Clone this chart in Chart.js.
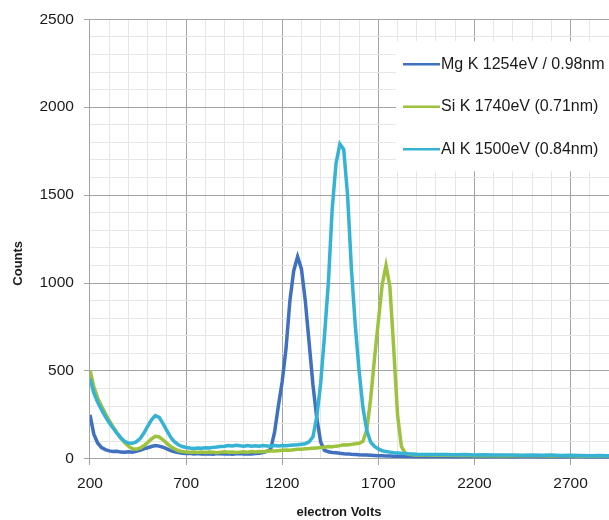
<!DOCTYPE html>
<html>
<head>
<meta charset="utf-8">
<title>X-ray spectra</title>
<script src="https://cdn.jsdelivr.net/npm/chart.js@4.4.1/dist/chart.umd.min.js"></script>
<style>
    html, body { margin: 0; padding: 0; background: #ffffff; }
    #chart { display: block; }
</style>
</head>
<body>
<canvas id="chart" width="609" height="520"></canvas>
<script>
// energy axis (eV) shared by the three spectra
const energyEv = [
    200, 220, 240, 260, 280, 300, 320, 340, 360, 380,
    400, 420, 440, 460, 480, 500, 520, 540, 560, 580,
    600, 620, 640, 660, 680, 700, 720, 740, 760, 780,
    800, 820, 840, 860, 880, 900, 920, 940, 960, 980,
    1000, 1020, 1040, 1060, 1080, 1100, 1120, 1140, 1160, 1180,
    1200, 1220, 1240, 1260, 1280, 1300, 1320, 1340, 1360, 1380,
    1400, 1420, 1440, 1460, 1480, 1500, 1520, 1540, 1560, 1580,
    1600, 1620, 1640, 1660, 1680, 1700, 1720, 1740, 1760, 1780,
    1800, 1820, 1840, 1860, 1880, 1900,
    1950, 2000, 2050, 2100, 2150, 2200, 2250, 2300, 2350, 2400,
    2450, 2500, 2550, 2600, 2650, 2700, 2750, 2800, 2850, 2900
];

const mgCounts = [
    250, 140, 90, 64, 52, 45, 41, 43, 38, 37,
    40, 38, 43, 48, 56, 63, 70, 76, 72, 66,
    56, 46, 40, 35, 32, 30, 31, 28, 30, 27,
    29, 28, 26, 30, 28, 27, 29, 26, 28, 30,
    27, 29, 28, 30, 32, 35, 42, 55, 150, 300,
    440, 630, 900, 1070, 1150, 1080, 900, 660, 420, 230,
    95, 48, 40, 36, 34, 31, 29, 28, 26, 25,
    23, 22, 21, 20, 19, 18, 17, 16, 16, 15,
    14, 14, 13, 13, 12, 12,
    13, 11, 12, 10, 12, 11, 10, 12, 11, 10,
    11, 12, 10, 11, 10, 12, 11, 10, 11, 10
];

const siCounts = [
    505, 410, 345, 300, 258, 218, 182, 148, 118, 92,
    72, 58, 54, 60, 74, 93, 113, 128, 124, 108,
    88, 70, 56, 46, 41, 38, 37, 39, 36, 38,
    36, 39, 37, 35, 38, 40, 37, 39, 36, 38,
    40, 38, 41, 39, 42, 40, 43, 45, 44, 46,
    48, 50, 49, 52, 55, 54, 57, 58, 60, 62,
    64, 66, 70, 68, 72, 75, 80, 78, 82, 85,
    88, 100, 165, 340, 570, 780, 990, 1100, 980, 630,
    250, 70, 32, 26, 23, 22,
    21, 20, 21, 19, 20, 18, 19, 18, 19, 17,
    18, 17, 18, 16, 17, 18, 16, 17, 16, 17
];

const alCounts = [
    455, 375, 322, 280, 240, 205, 175, 146, 120, 100,
    90, 88, 96, 114, 145, 185, 222, 246, 236, 200,
    160, 122, 96, 80, 70, 64, 61, 59, 62, 60,
    63, 61, 65, 67, 70, 72, 76, 73, 77, 74,
    72, 76, 71, 74, 72, 75, 73, 71, 75, 73,
    76, 74, 77, 79, 80, 83, 86, 96, 125, 240,
    430, 700, 1000, 1420, 1680, 1790, 1760, 1500, 1080, 760,
    500, 290, 160, 95, 70, 56, 46, 41, 38, 35,
    33, 31, 30, 28, 27, 26,
    25, 24, 25, 23, 24, 22, 23, 22, 21, 22,
    20, 21, 20, 21, 19, 20, 19, 18, 19, 18
];

const seriesNames = ['Mg K 1254eV / 0.98nm', 'Si K 1740eV (0.71nm)', 'Al K 1500eV (0.84nm)'];
const seriesColors = ['#4070c0', '#9dc23e', '#35b2d4'];

const xTickLabels = [200, 700, 1200, 1700, 2200, 2700];
const yTickLabels = [0, 500, 1000, 1500, 2000, 2500];

const FONT = "'Liberation Sans', Arial, sans-serif";
const MAJOR_GRID = '#a3a3a3';
const MINOR_GRID = '#e6e6e6';

function toPoints(values) {
    return energyEv.map((e, i) => ({ x: e, y: values[i] }));
}

const isMajor = (list, v) => list.includes(Math.round(v));

// legend inside the plot (top right, white box) and the two axis titles
const decorations = {
    id: 'decorations',
    afterDraw(chart) {
        const ctx = chart.ctx;
        const area = chart.chartArea;
        const boxLeft = area.right - 213;
        const boxTop = area.top + 22;
        ctx.save();
        ctx.fillStyle = '#ffffff';
        ctx.fillRect(boxLeft, boxTop, 213, 130);
        ctx.font = '16px ' + FONT;
        ctx.textBaseline = 'middle';
        ctx.textAlign = 'left';
        seriesNames.forEach((name, i) => {
            const y = boxTop + 23 + i * 42.5;
            ctx.strokeStyle = seriesColors[i];
            ctx.lineWidth = 2.5;
            ctx.beginPath();
            ctx.moveTo(boxLeft + 7, y);
            ctx.lineTo(boxLeft + 44, y);
            ctx.stroke();
            ctx.fillStyle = '#1a1a1a';
            ctx.fillText(name, boxLeft + 45, y);
        });

        ctx.font = 'bold 13px ' + FONT;
        ctx.textAlign = 'center';
        ctx.fillText('electron Volts', area.left + 249, 512);
        ctx.translate(18, area.top + 244);
        ctx.rotate(-Math.PI / 2);
        ctx.fillText('Counts', 0, 0);
        ctx.restore();
    }
};

const datasets = [mgCounts, siCounts, alCounts].map((values, i) => ({
    label: seriesNames[i],
    data: toPoints(values),
    borderColor: seriesColors[i],
    backgroundColor: seriesColors[i],
    borderWidth: 3.5,
    pointRadius: 0,
    tension: 0,
    order: 3 - i
}));

new Chart(document.getElementById('chart'), {
    type: 'line',
    data: { datasets: datasets },
    plugins: [decorations],
    options: {
        responsive: false,
        animation: false,
        devicePixelRatio: 1,
        layout: {
            padding: { left: 29.5, right: 0, top: 16, bottom: 26.6 }
        },
        plugins: {
            legend: { display: false },
            tooltip: { enabled: false }
        },
        scales: {
            x: {
                type: 'linear',
                min: 200,
                max: 2900,
                border: { color: MAJOR_GRID, width: 1 },
                grid: {
                    color: (c) => isMajor(xTickLabels, c.tick.value) ? MAJOR_GRID : MINOR_GRID,
                    tickColor: (c) => isMajor(xTickLabels, c.tick.value) ? MAJOR_GRID : 'rgba(0,0,0,0)',
                    // long tick slot keeps labels clear of the axis; the dash shows only 6px of it
                    tickLength: 16,
                    tickBorderDash: [6, 40]
                },
                ticks: {
                    stepSize: 100,
                    autoSkip: false,
                    maxRotation: 0,
                    padding: 0,
                    color: '#1a1a1a',
                    font: { family: FONT, size: 15.5 },
                    callback: (value) => isMajor(xTickLabels, value) ? String(Math.round(value)) : ''
                }
            },
            y: {
                min: 0,
                max: 2500,
                border: { color: MAJOR_GRID, width: 1 },
                grid: {
                    color: (c) => isMajor(yTickLabels, c.tick.value) ? MAJOR_GRID : MINOR_GRID,
                    tickColor: (c) => isMajor(yTickLabels, c.tick.value) ? MAJOR_GRID : 'rgba(0,0,0,0)',
                    tickLength: 6
                },
                ticks: {
                    stepSize: 100,
                    autoSkip: false,
                    padding: 10,
                    color: '#1a1a1a',
                    font: { family: FONT, size: 15.5 },
                    callback: (value) => isMajor(yTickLabels, value) ? String(Math.round(value)) : ''
                }
            }
        }
    }
});
</script>
</body>
</html>
